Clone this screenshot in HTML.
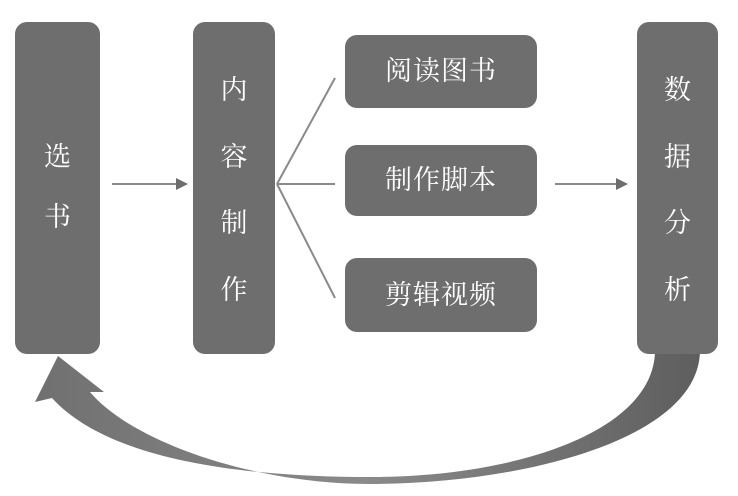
<!DOCTYPE html>
<html><head><meta charset="utf-8"><style>
body{margin:0;background:#fff;width:738px;height:496px;overflow:hidden;position:relative;font-family:"Liberation Serif","Noto Serif CJK SC",serif}
.b{position:absolute;background:#6e6e6e;border-radius:12px;color:#fff;font-size:27px;text-align:center}
.v span{position:absolute;left:0;right:0}
.h{line-height:1;display:flex;align-items:center;justify-content:center;letter-spacing:1px}
</style></head><body>
<svg width="738" height="496" style="position:absolute;left:0;top:0">
<defs><linearGradient id="g" x1="0" x2="1"><stop offset="0" stop-color="#707070"/><stop offset="0.5" stop-color="#8a8a8a"/><stop offset="1" stop-color="#5e5e5e"/></linearGradient></defs>
<g stroke="#8a8a8a" stroke-width="2" fill="none">
<line x1="112" y1="184" x2="178" y2="184"/>
<line x1="555" y1="184" x2="618" y2="184"/>
<line x1="277" y1="184" x2="335" y2="184"/>
<line x1="277" y1="184" x2="335" y2="78"/>
<line x1="277" y1="184" x2="335" y2="298"/>
</g>
<polygon points="176,178 188,184 176,190" fill="#6e6e6e"/>
<polygon points="616,178 628,184 616,190" fill="#6e6e6e"/>
<path d="M700 350 C700 440 520 484 370 484 C250 484 130 440 90 392 L104 392 L58 356 L35 402 L52 398 C110 462 250 477 370 477 C520 477 655 430 655 350 Z" fill="url(#g)"/>
</svg>
<div class="b v" style="left:15px;top:22px;width:85px;height:332px"><span style="top:113px">选</span><span style="top:173px">书</span></div>
<div class="b v" style="left:193px;top:22px;width:82px;height:332px"><span style="top:46px">内</span><span style="top:113px">容</span><span style="top:179px">制</span><span style="top:246px">作</span></div>
<div class="b v" style="left:637px;top:22px;width:81px;height:332px"><span style="top:46px">数</span><span style="top:113px">据</span><span style="top:179px">分</span><span style="top:246px">析</span></div>
<div class="b h" style="left:345px;top:35px;width:192px;height:73px">阅读图书</div>
<div class="b h" style="left:345px;top:145px;width:192px;height:71px">制作脚本</div>
<div class="b h" style="left:345px;top:258px;width:192px;height:74px">剪辑视频</div>
</body></html>
